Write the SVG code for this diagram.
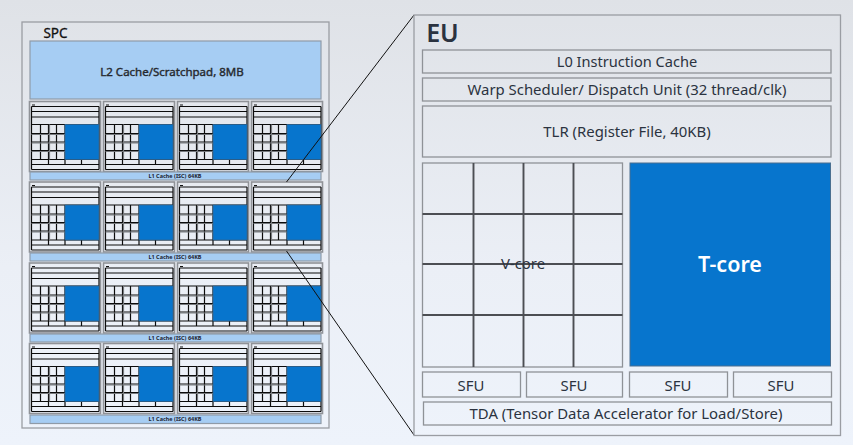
<svg xmlns="http://www.w3.org/2000/svg" width="853" height="445" viewBox="0 0 853 445">
<style>
.panel{fill:none;stroke:#9a9da3;stroke-width:1.3}
.box{fill:none;stroke:#8f9297;stroke-width:1.3}
.cache{fill:#a6cdf3;stroke:#8f9ba8;stroke-width:1.2}
.blue{fill:#0775cd;stroke:#4a6f90;stroke-width:1}
.gl{stroke:#4c4e53;stroke-width:1.900;fill:none}
.k{stroke:#0c0c0c;stroke-width:1.200;fill:none}
.g2{stroke:#777a7e;stroke-width:1.200;fill:none}
text{font-family:"Noto Sans","Open Sans","Liberation Sans",sans-serif;text-anchor:middle;fill:#2b3340}
.t{font-size:14.900px}
.l1{font-size:5.500px;font-weight:700;fill:#1a2230}
.conn{stroke:#111;stroke-width:1;fill:none}
.mo{fill:none;stroke:#8f9297;stroke-width:1.600}
</style>
<defs>
<linearGradient id="bg" x1="0" y1="0" x2="0" y2="1"><stop offset="0" stop-color="#dfe2e7"/><stop offset=".6" stop-color="#ebeff6"/><stop offset="1" stop-color="#eef3fb"/></linearGradient>
<g id="mini">
<rect class="mo" x="0" y="0" width="71" height="70"/>
<rect x="2.500" y="3" width="3" height="1" fill="#111"/>
<path class="k" d="M2 5H69.500M2 10H69.500M2 15.500H69.500M2 23H69.500M2 58H69.500M2 63H69.500M2 68H69.500M2 5V68M69.500 5V68"/>
<path class="k" d="M11 23V58M19 23V58M27 23V58M35.500 23V58M2 32H35.500M2 40.500H35.500M2 49H35.500M19 58V63M35.500 58V63M52 58V63"/>
<path class="g2" d="M2 33H35.500M2 41.500H35.500M2 50H35.500M20 23V58"/>
<rect x="35.500" y="23" width="34" height="35" fill="#0775cd" stroke="#34658f" stroke-width=".8"/>
</g>
</defs>
<rect width="853" height="445" fill="url(#bg)"/>
<g id="spc">
<rect class="panel" x="22" y="22" width="307" height="406"/>
<text x="55.500" y="38" style="font-size:13.500px;stroke:#111;stroke-width:.3;fill:#111">SPC</text>
</g>
<g id="l2-cache">
<rect class="cache" x="30" y="41" width="291" height="58"/>
<text x="172" y="76" style="font-size:11.500px;stroke:#222;stroke-width:.4">L2 Cache/Scratchpad, 8MB</text>
</g>
<g id="row-1">
<use href="#mini" x="29.500" y="101.500"/><use href="#mini" x="103.500" y="101.500"/><use href="#mini" x="177.500" y="101.500"/><use href="#mini" x="251.500" y="101.500"/>
<rect class="cache" x="30" y="172" width="291" height="8"/><text class="l1" x="175" y="178">L1 Cache (ISC) 64KB</text>
</g>
<g id="row-2">
<use href="#mini" x="29.500" y="182"/><use href="#mini" x="103.500" y="182"/><use href="#mini" x="177.500" y="182"/><use href="#mini" x="251.500" y="182"/>
<rect class="cache" x="30" y="253" width="291" height="8"/><text class="l1" x="175" y="259">L1 Cache (ISC) 64KB</text>
</g>
<g id="row-3">
<use href="#mini" x="29.500" y="263"/><use href="#mini" x="103.500" y="263"/><use href="#mini" x="177.500" y="263"/><use href="#mini" x="251.500" y="263"/>
<rect class="cache" x="30" y="334" width="291" height="8"/><text class="l1" x="175" y="340">L1 Cache (ISC) 64KB</text>
</g>
<g id="row-4">
<use href="#mini" x="29.500" y="343.500"/><use href="#mini" x="103.500" y="343.500"/><use href="#mini" x="177.500" y="343.500"/><use href="#mini" x="251.500" y="343.500"/>
<rect class="cache" x="30" y="415" width="291" height="8.500"/><text class="l1" x="175" y="421">L1 Cache (ISC) 64KB</text>
</g>
<g id="connectors">
<path class="conn" d="M286.500 182L414 15M286.500 251L414 435"/>
</g>
<g id="eu">
<rect class="panel" x="414" y="15" width="426.500" height="420.500"/>
<text x="442.500" y="42" style="font-size:25px;font-weight:600" fill="#111">EU</text>
</g>
<g id="l0"><rect class="box" x="422.500" y="50" width="408.500" height="23"/><text class="t" x="627" y="67" style="font-size:14.600px">L0 Instruction Cache</text></g>
<g id="warp"><rect class="box" x="422.500" y="78" width="408.500" height="23"/><text class="t" x="627" y="95">Warp Scheduler/ Dispatch Unit (32 thread/clk)</text></g>
<g id="tlr"><rect class="box" x="422.500" y="106" width="408.500" height="51"/><text class="t" x="627" y="137">TLR (Register File, 40KB)</text></g>
<g id="v-core">
<rect class="box" x="422.500" y="163" width="200" height="204"/>
<path class="gl" d="M473.500 163V367M523.500 163V367M573.500 163V367M422.500 214H622.500M422.500 264H622.500M422.500 315H622.500"/>
<text class="t" x="523" y="269">V-core</text>
</g>
<g id="t-core"><rect class="blue" x="630" y="163" width="200.500" height="203"/><text x="730" y="272" style="font-size:21.500px;font-weight:600;fill:#fff">T-core</text></g>
<g id="sfu-1"><rect class="box" x="422.500" y="372" width="98" height="25"/><text class="t" x="471" y="390.500">SFU</text></g>
<g id="sfu-2"><rect class="box" x="526.500" y="372" width="96" height="25"/><text class="t" x="574" y="390.500">SFU</text></g>
<g id="sfu-3"><rect class="box" x="629.500" y="372" width="98" height="25"/><text class="t" x="678" y="390.500">SFU</text></g>
<g id="sfu-4"><rect class="box" x="733.500" y="372" width="98" height="25"/><text class="t" x="781" y="390.500">SFU</text></g>
<g id="tda"><rect class="box" x="423.500" y="402" width="408" height="23"/><text class="t" x="626" y="419">TDA (Tensor Data Accelerator for Load/Store)</text></g>
</svg>
